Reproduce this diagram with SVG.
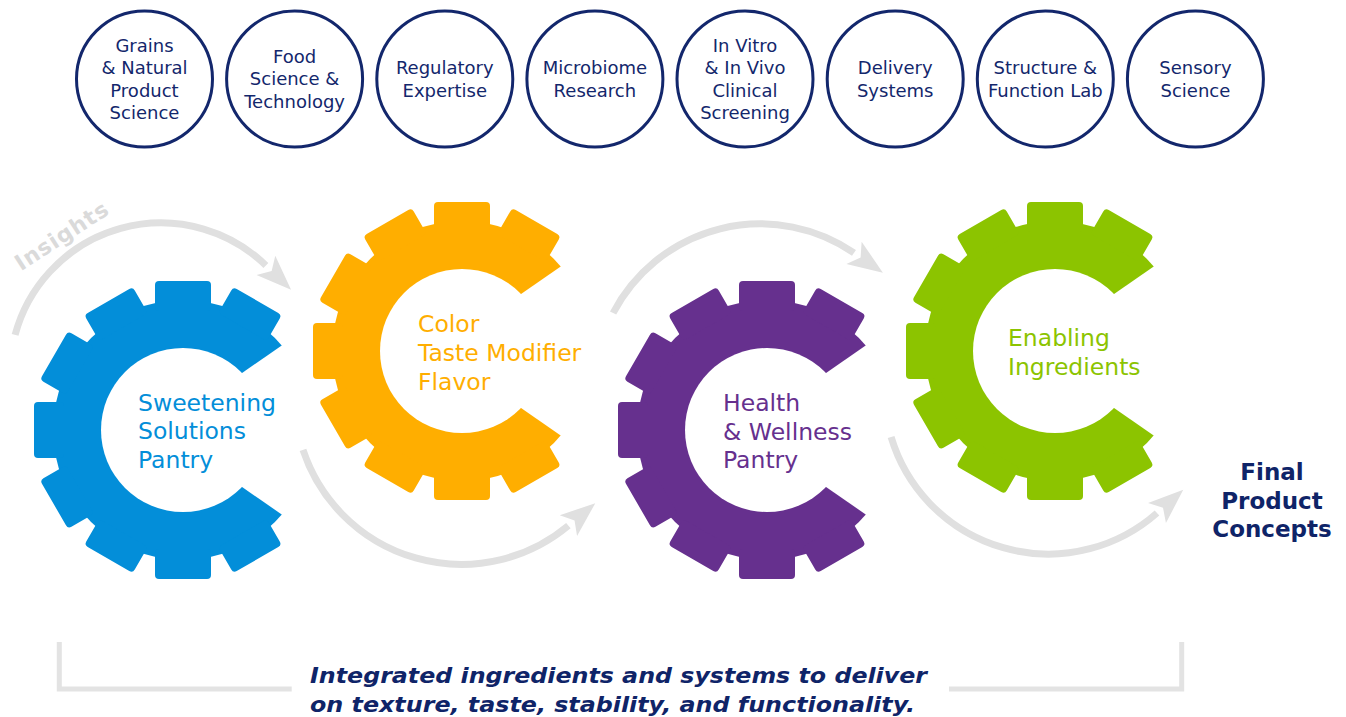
<svg xmlns="http://www.w3.org/2000/svg" xmlns:xlink="http://www.w3.org/1999/xlink" width="1346" height="717" viewBox="0 0 1346 717">
<style>
.ct{font-family:"DejaVu Sans",Verdana,sans-serif;font-size:18px;fill:#13276C;text-anchor:middle}
.cc{fill:#fff;stroke:#13276C;stroke-width:3}
.gt{font-family:"DejaVu Sans",Verdana,sans-serif;font-size:23.5px}
.arc{fill:none;stroke:#E0E0E0;stroke-width:7;marker-end:url(#ah)}
.fin{font-family:"DejaVu Sans",Verdana,sans-serif;font-size:23px;font-weight:bold;fill:#0F2468;text-anchor:middle}
.bt{font-family:"DejaVu Sans",Verdana,sans-serif;font-size:22px;font-weight:bold;font-style:italic;fill:#0F2468}
</style>
<defs>
<marker id="ah" markerUnits="userSpaceOnUse" markerWidth="40" markerHeight="30" viewBox="0 0 40 30" refX="0" refY="15" orient="auto" overflow="visible">
<path d="M0,1.5 L35,15 L0,28.5 L8,15 Z" fill="#E0E0E0"/>
</marker>
<g id="gearShape">
<circle r="130"/>
<rect x="-28" y="-149" width="56" height="30" rx="4" transform="rotate(30)"/>
<rect x="-28" y="-149" width="56" height="30" rx="4"/>
<rect x="-28" y="-149" width="56" height="30" rx="4" transform="rotate(-30)"/>
<rect x="-28" y="-149" width="56" height="30" rx="4" transform="rotate(-60)"/>
<rect x="-28" y="-149" width="56" height="30" rx="4" transform="rotate(-90)"/>
<rect x="-28" y="-149" width="56" height="30" rx="4" transform="rotate(-120)"/>
<rect x="-28" y="-149" width="56" height="30" rx="4" transform="rotate(-150)"/>
<rect x="-28" y="-149" width="56" height="30" rx="4" transform="rotate(180)"/>
<rect x="-28" y="-149" width="56" height="30" rx="4" transform="rotate(150)"/>
</g>
<mask id="cmask" maskUnits="userSpaceOnUse" x="-170" y="-170" width="340" height="340">
<rect x="-170" y="-170" width="340" height="340" fill="#fff"/>
<circle r="82" fill="#000"/>
<polygon points="58.7,-56.7 154.5,-123.2 170,-123.2 170,123.2 154.5,123.2 58.7,56.7" fill="#000"/>
</mask>
</defs>
<rect width="1346" height="717" fill="#fff"/>

<g id="circle-grains"><circle class="cc" cx="144.5" cy="79" r="68"/><text class="ct" x="144.5" y="52">Grains</text><text class="ct" x="144.5" y="74.3">&amp; Natural</text><text class="ct" x="144.5" y="96.6">Product</text><text class="ct" x="144.5" y="119">Science</text></g>
<g id="circle-food"><circle class="cc" cx="294.6" cy="79" r="68"/><text class="ct" x="294.6" y="63">Food</text><text class="ct" x="294.6" y="85.3">Science &amp;</text><text class="ct" x="294.6" y="107.6">Technology</text></g>
<g id="circle-regulatory"><circle class="cc" cx="444.8" cy="79" r="68"/><text class="ct" x="444.8" y="74.2">Regulatory</text><text class="ct" x="444.8" y="96.5">Expertise</text></g>
<g id="circle-microbiome"><circle class="cc" cx="594.9" cy="79" r="68"/><text class="ct" x="594.9" y="74.2">Microbiome</text><text class="ct" x="594.9" y="96.5">Research</text></g>
<g id="circle-invitro"><circle class="cc" cx="745" cy="79" r="68"/><text class="ct" x="745" y="52">In Vitro</text><text class="ct" x="745" y="74.3">&amp; In Vivo</text><text class="ct" x="745" y="96.6">Clinical</text><text class="ct" x="745" y="119">Screening</text></g>
<g id="circle-delivery"><circle class="cc" cx="895.2" cy="79" r="68"/><text class="ct" x="895.2" y="74.2">Delivery</text><text class="ct" x="895.2" y="96.5">Systems</text></g>
<g id="circle-structure"><circle class="cc" cx="1045.3" cy="79" r="68"/><text class="ct" x="1045.3" y="74.2">Structure &amp;</text><text class="ct" x="1045.3" y="96.5">Function Lab</text></g>
<g id="circle-sensory"><circle class="cc" cx="1195.4" cy="79" r="68"/><text class="ct" x="1195.4" y="74.2">Sensory</text><text class="ct" x="1195.4" y="96.5">Science</text></g>

<g id="connectors">
<path class="arc" d="M15.1,334.9 A151,151 0 0 1 265.9,265.4"/>
<path class="arc" d="M303,449.9 A166.9,166.9 0 0 0 568.4,525.6"/>
<path class="arc" d="M613.1,313 A166,166 0 0 1 854,252.9"/>
<path class="arc" d="M891.1,437 A164.2,164.2 0 0 0 1157,513"/>
<path d="M59.3,642 V689 H291.7 M949,689 H1181.7 V642" fill="none" stroke="#E3E3E3" stroke-width="5"/>
</g>

<g id="insights-label"><text transform="translate(66,242) rotate(-33)" text-anchor="middle" font-family="DejaVu Sans, Verdana, sans-serif" font-size="22" font-weight="bold" letter-spacing="1" fill="#DADADA">Insights</text></g>

<g id="gear-sweetening">
<use xlink:href="#gearShape" href="#gearShape" transform="translate(183,430)" fill="#038ED9" mask="url(#cmask)"/>
<text class="gt" fill="#038ED9"><tspan x="138" y="410.5">Sweetening</tspan><tspan x="138" y="439">Solutions</tspan><tspan x="138" y="467.5">Pantry</tspan></text>
</g>
<g id="gear-color">
<use xlink:href="#gearShape" href="#gearShape" transform="translate(462,351)" fill="#FFAE00" mask="url(#cmask)"/>
<text class="gt" fill="#FFAE00"><tspan x="418" y="332">Color</tspan><tspan x="418" y="361">Taste Modifier</tspan><tspan x="418" y="389.5">Flavor</tspan></text>
</g>
<g id="gear-health">
<use xlink:href="#gearShape" href="#gearShape" transform="translate(767,430)" fill="#66308E" mask="url(#cmask)"/>
<text class="gt" fill="#66308E"><tspan x="723" y="411">Health</tspan><tspan x="723" y="440">&amp; Wellness</tspan><tspan x="723" y="468">Pantry</tspan></text>
</g>
<g id="gear-enabling">
<use xlink:href="#gearShape" href="#gearShape" transform="translate(1055,351)" fill="#8CC400" mask="url(#cmask)"/>
<text class="gt" fill="#8CC400"><tspan x="1008" y="346">Enabling</tspan><tspan x="1008" y="374.5">Ingredients</tspan></text>
</g>

<g id="final-concepts"><text class="fin" x="1272" y="480">Final</text><text class="fin" x="1272" y="508.5">Product</text><text class="fin" x="1272" y="537">Concepts</text></g>

<g id="bottom-text">
<text class="bt" x="310" y="683" textLength="617" lengthAdjust="spacingAndGlyphs">Integrated ingredients and systems to deliver</text>
<text class="bt" x="310" y="712" textLength="605" lengthAdjust="spacingAndGlyphs">on texture, taste, stability, and functionality.</text>
</g>
</svg>
